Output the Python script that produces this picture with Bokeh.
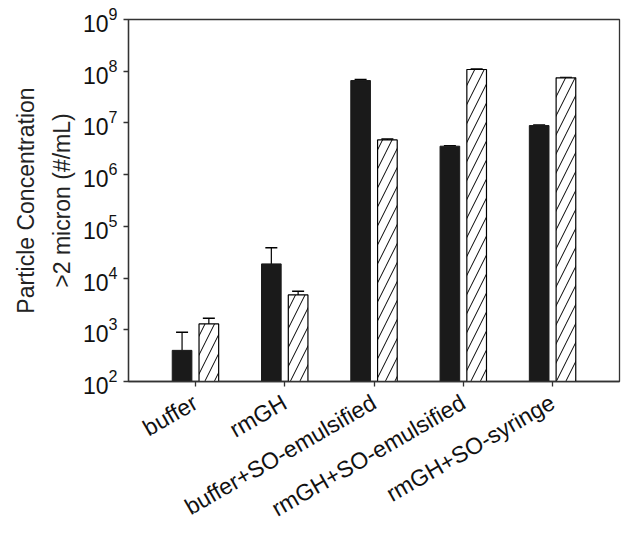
import math
from bokeh.plotting import figure
from bokeh.models import (ColumnDataSource, FixedTicker, Whisker, TeeHead, Title,
                          LogTickFormatter, Range1d)
from bokeh.embed import file_html
from bokeh.resources import INLINE

categories = ["buffer", "rmGH", "buffer+SO-emulsified", "rmGH+SO-emulsified", "rmGH+SO-syringe"]
solid_values = [400, 18800, 6.6e7, 3.55e6, 8.9e6]
solid_upper = [900, 38500, 6.9e7, 3.6e6, 9.1e6]
hatched_values = [1300, 4730, 4.7e6, 1.08e8, 7.45e7]
hatched_upper = [1680, 5570, 4.9e6, 1.1e8, 7.6e7]

FONT = "Liberation Sans"
offset = 0.15
bar_w = 0.22

xs = list(range(len(categories)))
solid_src = ColumnDataSource(dict(x=[i - offset for i in xs], top=solid_values, up=solid_upper))
hatch_src = ColumnDataSource(dict(x=[i + offset for i in xs], top=hatched_values, up=hatched_upper))

p = figure(frame_width=491, frame_height=362, y_axis_type="log",
           x_range=Range1d(-0.75, 4.75), y_range=Range1d(1e2, 1e9),
           min_border_left=128, min_border_top=19, min_border_right=2, min_border_bottom=140,
           output_backend="svg", toolbar_location=None)

p.vbar(x="x", top="top", bottom=1e2, width=bar_w, source=solid_src,
       fill_color="#1a1a1a", line_color="#1a1a1a", line_width=1)
p.vbar(x="x", top="top", bottom=1e2, width=bar_w, source=hatch_src,
       fill_color="white", line_color="black", line_width=1.2,
       hatch_pattern="/", hatch_color="black", hatch_scale=19, hatch_weight=1)

for src in (solid_src, hatch_src):
    w = Whisker(base="x", lower="top", upper="up", source=src, dimension="height",
                lower_head=None, upper_head=TeeHead(size=12, line_width=1.5, line_color="black"),
                line_color="black", line_width=1.2)
    p.add_layout(w)

p.grid.visible = False
p.outline_line_color = "#333333"
p.outline_line_width = 1.3

p.xaxis.ticker = FixedTicker(ticks=xs)
p.xaxis.major_label_overrides = {i: c for i, c in enumerate(categories)}
p.xaxis.major_label_orientation = math.pi / 6
p.xaxis.minor_tick_line_color = None
p.xaxis.major_tick_in = 0
p.xaxis.major_tick_out = 5
p.xaxis.major_label_text_font = FONT
p.xaxis.major_label_text_font_size = "23px"
p.xaxis.major_label_text_color = "#111111"
p.xaxis.major_label_standoff = 14

p.yaxis.ticker = FixedTicker(ticks=[1e2, 1e3, 1e4, 1e5, 1e6, 1e7, 1e8, 1e9])
p.yaxis.formatter = LogTickFormatter()
p.yaxis.minor_tick_line_color = None
p.yaxis.major_tick_in = 0
p.yaxis.major_tick_out = 5
p.yaxis.major_label_text_font = FONT
p.yaxis.major_label_text_font_size = "23px"
p.yaxis.major_label_text_color = "#111111"
p.yaxis.major_label_standoff = 6
p.yaxis.axis_label = ">2 micron (#/mL)"
p.yaxis.axis_label_text_font = FONT
p.yaxis.axis_label_text_font_size = "23px"
p.yaxis.axis_label_text_font_style = "normal"
p.yaxis.axis_label_text_color = "#222222"
p.yaxis.axis_label_standoff = 5

for ax in (p.xaxis, p.yaxis):
    ax.axis_line_color = "#333333"
    ax.axis_line_width = 1.3
    ax.major_tick_line_color = "#333333"
    ax.major_tick_line_width = 1.3

t = Title(text="Particle Concentration", align="center", text_font=FONT,
          text_font_size="23px", text_font_style="normal", text_color="#222222",
          standoff=13)
p.add_layout(t, "left")

open("out.html", "w").write(file_html(p, INLINE))
